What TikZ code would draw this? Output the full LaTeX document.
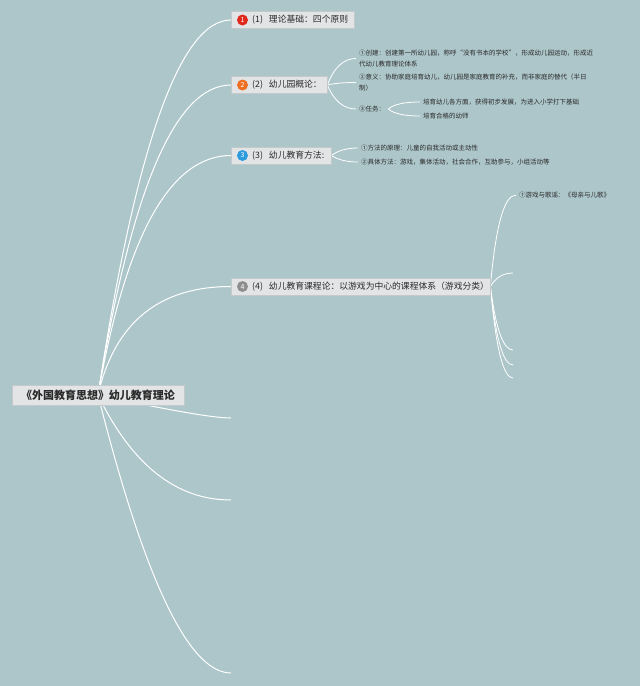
\documentclass[tikz,border=0pt]{standalone}
\usepackage{fontspec}
\setmainfont{Noto Sans CJK SC}
\usetikzlibrary{calc,shadows}
\definecolor{bgc}{HTML}{ADC6CA}
\definecolor{boxc}{HTML}{E2E4E5}
\definecolor{boxd}{HTML}{C4CACC}
\definecolor{txt}{HTML}{2A2A2A}
\definecolor{bred}{HTML}{E0281C}
\definecolor{borange}{HTML}{EE6E22}
\definecolor{bblue}{HTML}{2D9BDD}
\definecolor{bgray}{HTML}{8E8E8E}
\pgfdeclarelayer{bg}
\pgfsetlayers{bg,main}
\tikzset{
  qc/.style={to path={let \p1=(\tikztostart), \p2=(\tikztotarget) in
     .. controls ({\x1+0.667*(#1pt)}, {\y1+0.667*(\y2-\y1)}) and ({\x2+0.667*(\x1+#1pt-\x2)}, {\y2}) .. (\tikztotarget)}},
  conn/.style={draw=white, line width=1pt},
  subconn/.style={draw=white, line width=0.8pt},
  rootbox/.style={fill=boxc, draw=boxd, line width=0.4pt, minimum height=20pt, minimum width=172pt, inner xsep=0pt, inner ysep=0pt, font=\fontsize{11}{13}\selectfont\bfseries, text=txt},
  mainbox/.style={fill=boxc, draw=boxd, line width=0.4pt, minimum height=17pt, inner ysep=0pt, inner xsep=0pt, font=\fontsize{8.8}{10}\selectfont, text=txt, anchor=west, align=left, drop shadow={shadow xshift=0.8pt, shadow yshift=-0.8pt, opacity=0.25}},
  badge/.style={circle, fill=#1, inner sep=0pt, minimum size=11pt, text=white, font=\fontsize{7}{7}\selectfont},
  leaf/.style={anchor=west, inner xsep=3pt, inner ysep=1pt, align=left, font=\fontsize{6.5}{11}\selectfont, text=txt},
}
\begin{document}
\begin{tikzpicture}[x=1pt,y=-1pt]
\begin{pgfonlayer}{bg}
\fill[bgc] (0,0) rectangle (640,686);
\end{pgfonlayer}
\useasboundingbox (0,0) rectangle (640,686);

% root
\node[rootbox] (root) at (98,395) {《外国教育思想》幼儿教育理论};

% main nodes
\node[mainbox, text width=123pt] (n1) at (231,20) {\hspace*{21pt}(1)\hspace{3pt} 理论基础：四个原则};
\node[mainbox, text width=96pt] (n2) at (231,85) {\hspace*{21pt}(2)\hspace{3pt} 幼儿园概论：};
\node[mainbox, text width=100pt] (n3) at (231,155.5) {\hspace*{21pt}(3)\hspace{3pt} 幼儿教育方法:};
\node[mainbox, text width=259pt] (n4) at (231,286.5) {\hspace*{21pt}(4)\hspace{3pt} 幼儿教育课程论：以游戏为中心的课程体系（游戏分类）};
\node[badge=bred] (b1) at ($(n1.west)+(11.5,0)$) {1};
\node[badge=borange] (b2) at ($(n2.west)+(11.5,0)$) {2};
\node[badge=bblue] (b3) at ($(n3.west)+(11.5,0)$) {3};
\node[badge=bgray] (b4) at ($(n4.west)+(11.5,0)$) {4};

% free ends of empty branches
\coordinate (e5) at (231,418);
\coordinate (e6) at (231,500);
\coordinate (e7) at (231,673);
\coordinate (e41) at (513,273);
\coordinate (e42) at (513,350);
\coordinate (e43) at (513,365);
\coordinate (e44) at (513,378);

% leaves
\node[leaf] (c21) at (356,58.5) {①创建：创建第一所幼儿园，称呼“没有书本的学校”，形成幼儿园运动，形成近\\代幼儿教育理论体系};
\node[leaf] (c22) at (356,82.5) {②意义：协助家庭培育幼儿，幼儿园是家庭教育的补充，而非家庭的替代（半日\\制）};
\node[leaf] (c23) at (356,109) {③任务：};
\node[leaf] (c231) at (420,102) {培育幼儿各方面，获得初步发展，为进入小学打下基础};
\node[leaf] (c232) at (420,116) {培育合格的幼师};
\node[leaf] (c31) at (358,148) {①方法的原理：儿童的自我活动或主动性};
\node[leaf] (c32) at (358,162) {②具体方法：游戏，集体活动，社会合作，互助参与，小组活动等};
\node[leaf] (c41) at (516,195) {①游戏与歌谣：《母亲与儿歌》};

\begin{pgfonlayer}{bg}
\draw[conn] (root.center) to[qc=57] (n1.west);
\draw[conn] (root.center) to[qc=50] (n2.west);
\draw[conn] (root.center) to[qc=42] (n3.west);
\draw[conn] (root.center) to[qc=25] (n4.west);
\draw[conn] (root.center) to[qc=107] (e5);
\draw[conn] (root.center) to[qc=51] (e6);
\draw[conn] (root.center) to[qc=70] (e7);

\draw[subconn] (n2.east) to[qc=10] (c21.west);
\draw[subconn] (n2.east) to[qc=10] (c22.west);
\draw[subconn] (n2.east) to[qc=10] (c23.west);
\draw[subconn] (c23.east) to[qc=8] (c231.west);
\draw[subconn] (c23.east) to[qc=8] (c232.west);

\draw[subconn] (n3.east) to[qc=10] (c31.west);
\draw[subconn] (n3.east) to[qc=10] (c32.west);

\draw[subconn] (n4.east) to[qc=8] (c41.west);
\draw[subconn] (n4.east) to[qc=8] (e41);
\draw[subconn] (n4.east) to[qc=8] (e42);
\draw[subconn] (n4.east) to[qc=8] (e43);
\draw[subconn] (n4.east) to[qc=8] (e44);
\end{pgfonlayer}
\end{tikzpicture}
\end{document}
